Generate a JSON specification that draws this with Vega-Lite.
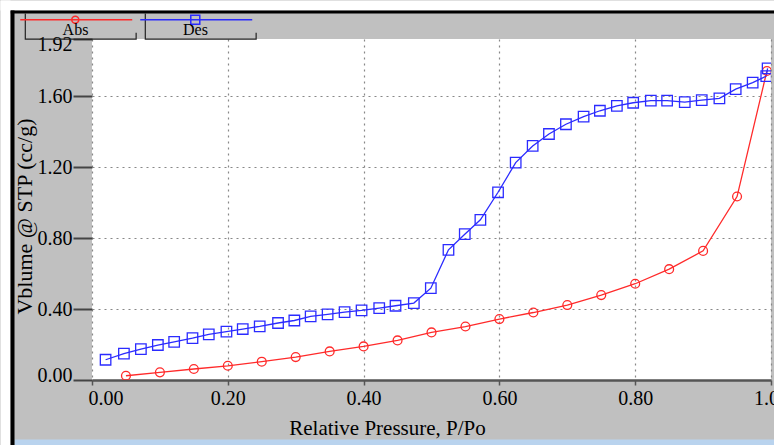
{
  "$schema": "https://vega.github.io/schema/vega-lite/v6.json",
  "width": 679,
  "height": 341,
  "autosize": {"type": "none"},
  "padding": {"left": 92, "top": 39, "right": 3, "bottom": 65},
  "background": "#c0c0c0",
  "config": {
    "view": {"fill": "white", "stroke": null},
    "font": "Liberation Serif",
    "axis": {"labelFont": "Liberation Serif", "titleFont": "Liberation Serif", "labelColor": "black", "titleColor": "black", "titleFontWeight": "normal"},
    "legend": {"labelFont": "Liberation Serif", "labelFontSize": 16}
  },
  "data": {
    "values": [
      {"series": "Abs", "p": 0.05, "v": 0.024},
      {"series": "Abs", "p": 0.10, "v": 0.043},
      {"series": "Abs", "p": 0.15, "v": 0.062},
      {"series": "Abs", "p": 0.20, "v": 0.080},
      {"series": "Abs", "p": 0.25, "v": 0.103},
      {"series": "Abs", "p": 0.30, "v": 0.129},
      {"series": "Abs", "p": 0.35, "v": 0.161},
      {"series": "Abs", "p": 0.40, "v": 0.189},
      {"series": "Abs", "p": 0.45, "v": 0.223},
      {"series": "Abs", "p": 0.50, "v": 0.268},
      {"series": "Abs", "p": 0.55, "v": 0.301},
      {"series": "Abs", "p": 0.60, "v": 0.343},
      {"series": "Abs", "p": 0.65, "v": 0.380},
      {"series": "Abs", "p": 0.70, "v": 0.422},
      {"series": "Abs", "p": 0.75, "v": 0.478},
      {"series": "Abs", "p": 0.80, "v": 0.542},
      {"series": "Abs", "p": 0.85, "v": 0.624},
      {"series": "Abs", "p": 0.90, "v": 0.727},
      {"series": "Abs", "p": 0.95, "v": 1.033},
      {"series": "Abs", "p": 0.994, "v": 1.740},
      {"series": "Des", "p": 0.020, "v": 0.114},
      {"series": "Des", "p": 0.047, "v": 0.148},
      {"series": "Des", "p": 0.072, "v": 0.174},
      {"series": "Des", "p": 0.097, "v": 0.197},
      {"series": "Des", "p": 0.121, "v": 0.215},
      {"series": "Des", "p": 0.148, "v": 0.236},
      {"series": "Des", "p": 0.172, "v": 0.257},
      {"series": "Des", "p": 0.198, "v": 0.272},
      {"series": "Des", "p": 0.222, "v": 0.287},
      {"series": "Des", "p": 0.247, "v": 0.302},
      {"series": "Des", "p": 0.274, "v": 0.321},
      {"series": "Des", "p": 0.298, "v": 0.335},
      {"series": "Des", "p": 0.322, "v": 0.358},
      {"series": "Des", "p": 0.347, "v": 0.369},
      {"series": "Des", "p": 0.372, "v": 0.382},
      {"series": "Des", "p": 0.397, "v": 0.392},
      {"series": "Des", "p": 0.423, "v": 0.405},
      {"series": "Des", "p": 0.447, "v": 0.418},
      {"series": "Des", "p": 0.474, "v": 0.433},
      {"series": "Des", "p": 0.499, "v": 0.517},
      {"series": "Des", "p": 0.525, "v": 0.733},
      {"series": "Des", "p": 0.549, "v": 0.821},
      {"series": "Des", "p": 0.572, "v": 0.902},
      {"series": "Des", "p": 0.598, "v": 1.057},
      {"series": "Des", "p": 0.624, "v": 1.224},
      {"series": "Des", "p": 0.649, "v": 1.318},
      {"series": "Des", "p": 0.673, "v": 1.385},
      {"series": "Des", "p": 0.698, "v": 1.440},
      {"series": "Des", "p": 0.724, "v": 1.483},
      {"series": "Des", "p": 0.748, "v": 1.516},
      {"series": "Des", "p": 0.773, "v": 1.543},
      {"series": "Des", "p": 0.797, "v": 1.561},
      {"series": "Des", "p": 0.823, "v": 1.573},
      {"series": "Des", "p": 0.847, "v": 1.573},
      {"series": "Des", "p": 0.873, "v": 1.565},
      {"series": "Des", "p": 0.898, "v": 1.576},
      {"series": "Des", "p": 0.924, "v": 1.586},
      {"series": "Des", "p": 0.948, "v": 1.638},
      {"series": "Des", "p": 0.973, "v": 1.674},
      {"series": "Des", "p": 0.993, "v": 1.711},
      {"series": "Des", "p": 0.995, "v": 1.755}
    ]
  },
  "layer": [
    {
      "encoding": {
        "x": {
          "field": "p", "type": "quantitative",
          "scale": {"domain": [0, 1], "nice": false, "zero": false},
          "axis": {
            "orient": "bottom",
            "values": [0, 0.2, 0.4, 0.6, 0.8, 1.0],
            "format": ".2f",
            "title": "Relative Pressure, P/Po",
            "labelFont": "Liberation Serif", "titleFont": "Liberation Serif",
            "domainColor": "#555", "domainWidth": 2.5,
            "tickColor": "#555", "tickSize": 5, "tickWidth": 1.5,
            "labelFontSize": 20, "labelPadding": 3,
            "labelAlign": {"condition": {"test": "datum.value === 0", "value": "left"}, "value": "center"},
            "labelOffset": {"condition": {"test": "datum.value === 0", "value": -4}, "value": 0},
            "labelFlush": false, "labelOverlap": false,
            "titleFontSize": 21, "titlePadding": 9, "titleX": 295, "titleAnchor": "start", "titleAlign": "center",
            "grid": true, "gridColor": "#888", "gridDash": [2, 4], "gridWidth": 1.2
          }
        },
        "y": {
          "field": "v", "type": "quantitative",
          "scale": {"domain": [0, 1.92], "nice": false, "zero": false},
          "axis": {
            "orient": "left",
            "values": [0, 0.4, 0.8, 1.2, 1.6, 1.92],
            "format": ".2f",
            "title": "Vblume @ STP (cc/g)",
            "labelFont": "Liberation Serif", "titleFont": "Liberation Serif",
            "domain": false,
            "tickColor": "#444", "tickSize": 19, "tickWidth": 2,
            "labelFontSize": 20, "labelPadding": 1,
            "labelOffset": {"condition": [{"test": "datum.value === 0", "value": -5}, {"test": "datum.value > 1.9", "value": 5}], "value": 1},
            "labelFlush": false, "labelOverlap": false,
            "titleFontSize": 22, "titlePadding": 1, "titleY": 177,
            "grid": true, "gridColor": "#888", "gridDash": [2, 4], "gridWidth": 1.2,
            "gridOpacity": {"condition": {"test": "datum.value === 0 || datum.value > 1.9", "value": 0}, "value": 1}
          }
        },
        "color": {
          "field": "series", "type": "nominal",
          "scale": {"domain": ["Abs", "Des"], "range": ["#ff2a2a", "#2b2bff"]},
          "legend": {
            "title": null,
            "orient": "none", "legendX": -67, "legendY": -26,
            "direction": "horizontal",
            "padding": 0, "offset": 0, "columnPadding": 0, "rowPadding": 0,
            "symbolSize": 256, "symbolStrokeWidth": 1.5,
            "labelFont": "Liberation Serif", "labelFontSize": 16, "labelColor": "black",
            "labelAlign": "center", "labelBaseline": "top", "labelOffset": 32.5, "labelLimit": 0,
            "encode": {
              "symbols": {
                "update": {
                  "shape": {"signal": "datum.value === 'Abs' ? 'M-1.72,-0.306H12.28M5.5975,-0.306A0.4375,0.4375 0 1,1 4.7225,-0.306A0.4375,0.4375 0 1,1 5.5975,-0.306' : 'M-1.72,-0.306H12.28M4.5975,-0.8685H5.7225V0.2565H4.5975Z'"},
                  "fill": {"value": "transparent"},
                  "stroke": {"signal": "datum.value === 'Abs' ? '#ff2a2a' : '#2b2bff'"},
                  "strokeWidth": {"value": 1.5},
                  "opacity": {"value": 1}
                }
              },
              "labels": {
                "update": {
                  "font": {"value": "Liberation Serif"},
                  "fontSize": {"value": 16},
                  "fill": {"value": "black"}
                }
              },
              "entries": {
                "update": {
                  "stroke": {"value": "#222"},
                  "strokeWidth": {"value": 1.2},
                  "width": {"value": 107},
                  "height": {"value": 23},
                  "strokeDash": {"value": [0, 130, 130]}
                }
              }
            }
          }
        }
      },
      "layer": [
        {"mark": {"type": "line", "strokeWidth": 1.3, "clip": true}},
        {
          "transform": [{"filter": "datum.series === 'Abs'"}],
          "mark": {"type": "point", "shape": "circle", "size": 78, "filled": false, "strokeWidth": 1.3, "opacity": 1, "clip": true}
        },
        {
          "transform": [{"filter": "datum.series === 'Des'"}],
          "mark": {"type": "point", "shape": "square", "size": 110, "filled": false, "strokeWidth": 1.3, "opacity": 1, "clip": true}
        }
      ]
    },
    {
      "mark": {"type": "point", "opacity": 0},
      "encoding": {
        "x": {"field": "p", "type": "quantitative", "scale": {"domain": [0, 1], "nice": false, "zero": false, "range": [-92, 682]},
          "axis": {"orient": "top", "offset": 34, "domainColor": "white", "domainWidth": 10, "ticks": false, "labels": false, "grid": false, "title": null}}
      }
    },
    {
      "mark": {"type": "point", "opacity": 0},
      "encoding": {
        "x": {"field": "p", "type": "quantitative", "scale": {"domain": [0, 1], "nice": false, "zero": false, "range": [-82, 682]},
          "axis": {"orient": "top", "offset": 27.5, "domainColor": "black", "domainWidth": 3, "ticks": false, "labels": false, "grid": false, "title": null}}
      }
    },
    {
      "mark": {"type": "point", "opacity": 0},
      "encoding": {
        "x": {"field": "p", "type": "quantitative", "scale": {"domain": [0, 1], "nice": false, "zero": false, "range": [-78, 682]},
          "axis": {"orient": "bottom", "offset": 62, "domainColor": "#b9d3ee", "domainWidth": 6, "ticks": false, "labels": false, "grid": false, "title": null}}
      }
    },
    {
      "mark": {"type": "point", "opacity": 0},
      "encoding": {
        "y": {"field": "v", "type": "quantitative", "scale": {"domain": [0, 1.92], "nice": false, "zero": false, "range": [406, -39]},
          "axis": {"orient": "left", "offset": 87, "domainColor": "white", "domainWidth": 10, "ticks": false, "labels": false, "grid": false, "title": null}}
      }
    },
    {
      "mark": {"type": "point", "opacity": 0},
      "encoding": {
        "y": {"field": "v", "type": "quantitative", "scale": {"domain": [0, 1.92], "nice": false, "zero": false, "range": [406, -29]},
          "axis": {"orient": "left", "offset": 80, "domainColor": "black", "domainWidth": 4, "ticks": false, "labels": false, "grid": false, "title": null}}
      }
    }
  ],
  "resolve": {"scale": {"x": "independent", "y": "independent"}, "axis": {"x": "independent", "y": "independent"}}
}
